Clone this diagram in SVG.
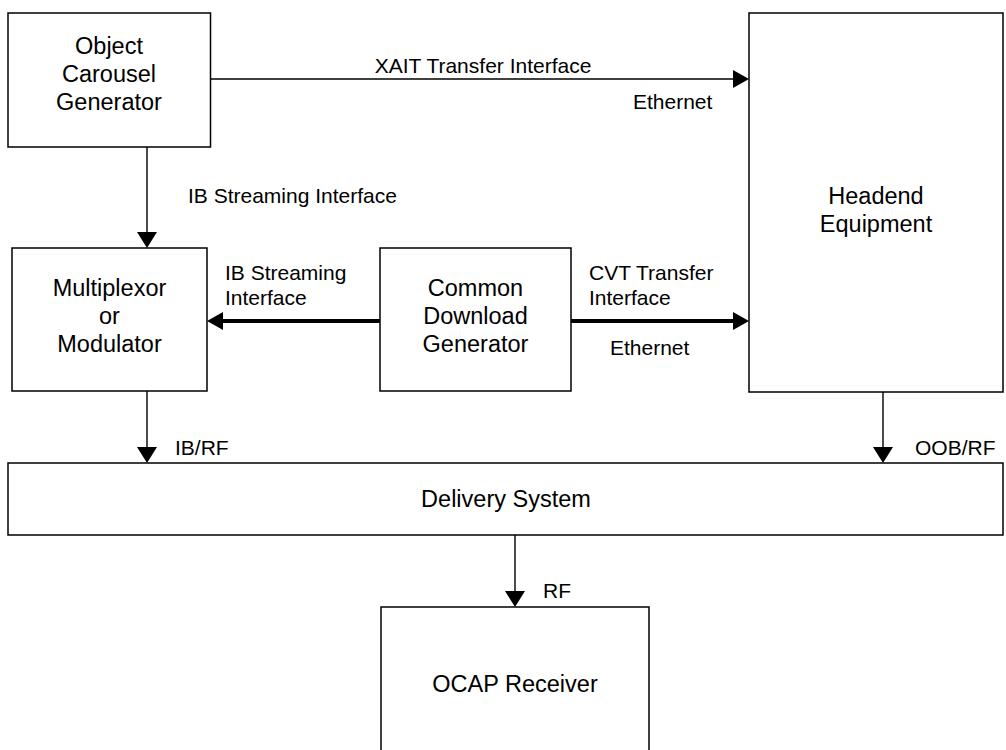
<svg xmlns="http://www.w3.org/2000/svg" width="1006" height="750" viewBox="0 0 1006 750">
<style>
.box{fill:#fff;stroke:#000;stroke-width:1.5}
.t{font-family:"Liberation Sans",Arial,sans-serif;font-size:23.5px;fill:#000;text-anchor:middle}
.l{font-family:"Liberation Sans",Arial,sans-serif;font-size:21px;fill:#000}
.thin{stroke:#000;stroke-width:1.4;fill:none}
.thick{stroke:#000;stroke-width:3.8;fill:none}
.ah{fill:#000}
</style>
<rect width="1006" height="750" fill="#fff"/>
<g id="ocg">
<rect class="box" x="8" y="13" width="202.5" height="134"/>
<text class="t" x="109" y="54">Object</text>
<text class="t" x="109" y="82">Carousel</text>
<text class="t" x="109" y="110">Generator</text>
</g>
<g id="headend">
<rect class="box" x="749" y="13" width="254" height="379"/>
<text class="t" x="876" y="204">Headend</text>
<text class="t" x="876" y="232">Equipment</text>
</g>
<g id="mux">
<rect class="box" x="12" y="248" width="195" height="143"/>
<text class="t" x="109.5" y="296">Multiplexor</text>
<text class="t" x="109.5" y="324">or</text>
<text class="t" x="109.5" y="352">Modulator</text>
</g>
<g id="cdg">
<rect class="box" x="380" y="248" width="191" height="143"/>
<text class="t" x="475.5" y="296">Common</text>
<text class="t" x="475.5" y="324">Download</text>
<text class="t" x="475.5" y="352">Generator</text>
</g>
<g id="delivery">
<rect class="box" x="8" y="463" width="995" height="72"/>
<text class="t" x="506" y="507">Delivery System</text>
</g>
<g id="ocap">
<path class="box" d="M381,760 V607 H649 V760"/>
<text class="t" x="515" y="692">OCAP Receiver</text>
</g>
<g id="connectors">
<line class="thin" x1="210.5" y1="79" x2="735" y2="79"/>
<path class="ah" d="M749,79 L733,70 L733,88 Z"/>
<text class="l" x="483" y="73" text-anchor="middle">XAIT Transfer Interface</text>
<text class="l" x="633" y="109">Ethernet</text>
<line class="thin" x1="147" y1="147" x2="147" y2="235"/>
<path class="ah" d="M147,248 L137,232 L157,232 Z"/>
<text class="l" x="188" y="203">IB Streaming Interface</text>
<line class="thick" x1="380" y1="321" x2="220" y2="321"/>
<path class="ah" d="M207,321 L223,312 L223,330 Z"/>
<text class="l" x="225" y="280">IB Streaming</text>
<text class="l" x="225" y="305">Interface</text>
<line class="thick" x1="571" y1="321" x2="736" y2="321"/>
<path class="ah" d="M749,321 L733,312 L733,330 Z"/>
<text class="l" x="589" y="280">CVT Transfer</text>
<text class="l" x="589" y="305">Interface</text>
<text class="l" x="610" y="355">Ethernet</text>
<line class="thin" x1="147" y1="391" x2="147" y2="450"/>
<path class="ah" d="M147,463 L137,447 L157,447 Z"/>
<text class="l" x="175" y="455">IB/RF</text>
<line class="thin" x1="883" y1="392" x2="883" y2="450"/>
<path class="ah" d="M883,463 L873,447 L893,447 Z"/>
<text class="l" x="915" y="455">OOB/RF</text>
<line class="thin" x1="515" y1="535" x2="515" y2="594"/>
<path class="ah" d="M515,607 L505,591 L525,591 Z"/>
<text class="l" x="543" y="598">RF</text>
</g>
</svg>
